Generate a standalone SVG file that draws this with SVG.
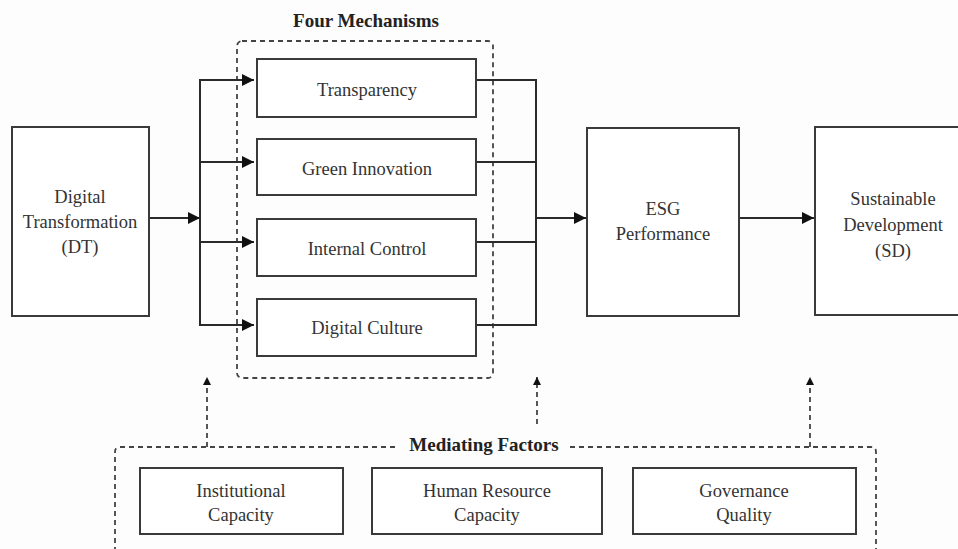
<svg xmlns="http://www.w3.org/2000/svg" width="958" height="549" viewBox="0 0 958 549">
<defs>
<style>
.box{fill:#fff;stroke:#3a3a3a;stroke-width:2}
.t{font-family:"Liberation Serif","Times New Roman",serif;font-size:18.5px;fill:#333;text-anchor:middle}
.tb{font-family:"Liberation Serif","Times New Roman",serif;font-size:19px;font-weight:bold;fill:#222;text-anchor:middle}
.ln{fill:none;stroke:#2a2a2a;stroke-width:2}
.dash{fill:none;stroke:#444;stroke-width:1.8;stroke-dasharray:5 4}
</style>
<marker id="ah" viewBox="0 0 10 10" refX="10" refY="5" markerWidth="13" markerHeight="12" markerUnits="userSpaceOnUse" orient="auto">
<path d="M0,0 L10,5 L0,10 z" fill="#111"/>
</marker>
<marker id="ahs" viewBox="0 0 10 10" refX="10" refY="5" markerWidth="9" markerHeight="8" markerUnits="userSpaceOnUse" orient="auto">
<path d="M0,0 L10,5 L0,10 z" fill="#111"/>
</marker>
</defs>
<rect width="958" height="549" fill="#fdfdfd"/>

<g id="four-mechanisms-group">
<rect class="dash" x="237" y="41" width="256" height="337" rx="5"/>
<text class="tb" x="366" y="27">Four Mechanisms</text>
</g>

<g id="mediating-factors-group">
<path class="dash" d="M395,447 H120 Q115,447 115,452 V552 M570,447 H871 Q876,447 876,452 V552"/>
<text class="tb" x="484" y="451">Mediating Factors</text>
</g>

<g id="connectors">
<line class="ln" x1="149" y1="218" x2="200" y2="218" marker-end="url(#ah)"/>
<line class="ln" x1="200" y1="79" x2="200" y2="326"/>
<line class="ln" x1="199" y1="80" x2="254" y2="80" marker-end="url(#ah)"/>
<line class="ln" x1="199" y1="162" x2="254" y2="162" marker-end="url(#ah)"/>
<line class="ln" x1="199" y1="242" x2="254" y2="242" marker-end="url(#ah)"/>
<line class="ln" x1="199" y1="325" x2="254" y2="325" marker-end="url(#ah)"/>
<path class="ln" d="M476,80 H536 V325 H476 M476,162 H536 M476,242 H536"/>
<line class="ln" x1="536" y1="218" x2="586" y2="218" marker-end="url(#ah)"/>
<line class="ln" x1="739" y1="218" x2="814" y2="218" marker-end="url(#ah)"/>
<line class="dash" x1="207" y1="447" x2="207" y2="377" marker-end="url(#ahs)"/>
<line class="dash" x1="537" y1="424" x2="537" y2="377" marker-end="url(#ahs)"/>
<line class="dash" x1="810" y1="447" x2="810" y2="377" marker-end="url(#ahs)"/>
</g>

<g id="dt">
<rect class="box" x="12" y="127" width="137" height="189"/>
<text class="t" x="80" y="203">Digital</text>
<text class="t" x="80" y="228">Transformation</text>
<text class="t" x="80" y="253">(DT)</text>
</g>

<g id="transparency">
<rect class="box" x="257" y="59" width="219" height="58"/>
<text class="t" x="367" y="96">Transparency</text>
</g>
<g id="green-innovation">
<rect class="box" x="257" y="139" width="219" height="56"/>
<text class="t" x="367" y="175">Green Innovation</text>
</g>
<g id="internal-control">
<rect class="box" x="257" y="219" width="219" height="57"/>
<text class="t" x="367" y="255">Internal Control</text>
</g>
<g id="digital-culture">
<rect class="box" x="257" y="299" width="219" height="57"/>
<text class="t" x="367" y="334">Digital Culture</text>
</g>

<g id="esg">
<rect class="box" x="587" y="128" width="152" height="188"/>
<text class="t" x="663" y="215">ESG</text>
<text class="t" x="663" y="240">Performance</text>
</g>

<g id="sd">
<rect class="box" x="815" y="127" width="156" height="188"/>
<text class="t" x="893" y="205">Sustainable</text>
<text class="t" x="893" y="231">Development</text>
<text class="t" x="893" y="257">(SD)</text>
</g>

<g id="institutional-capacity">
<rect class="box" x="140" y="468" width="203" height="66"/>
<text class="t" x="241" y="497">Institutional</text>
<text class="t" x="241" y="521">Capacity</text>
</g>
<g id="human-resource-capacity">
<rect class="box" x="372" y="468" width="230" height="66"/>
<text class="t" x="487" y="497">Human Resource</text>
<text class="t" x="487" y="521">Capacity</text>
</g>
<g id="governance-quality">
<rect class="box" x="633" y="468" width="223" height="66"/>
<text class="t" x="744" y="497">Governance</text>
<text class="t" x="744" y="521">Quality</text>
</g>
</svg>
